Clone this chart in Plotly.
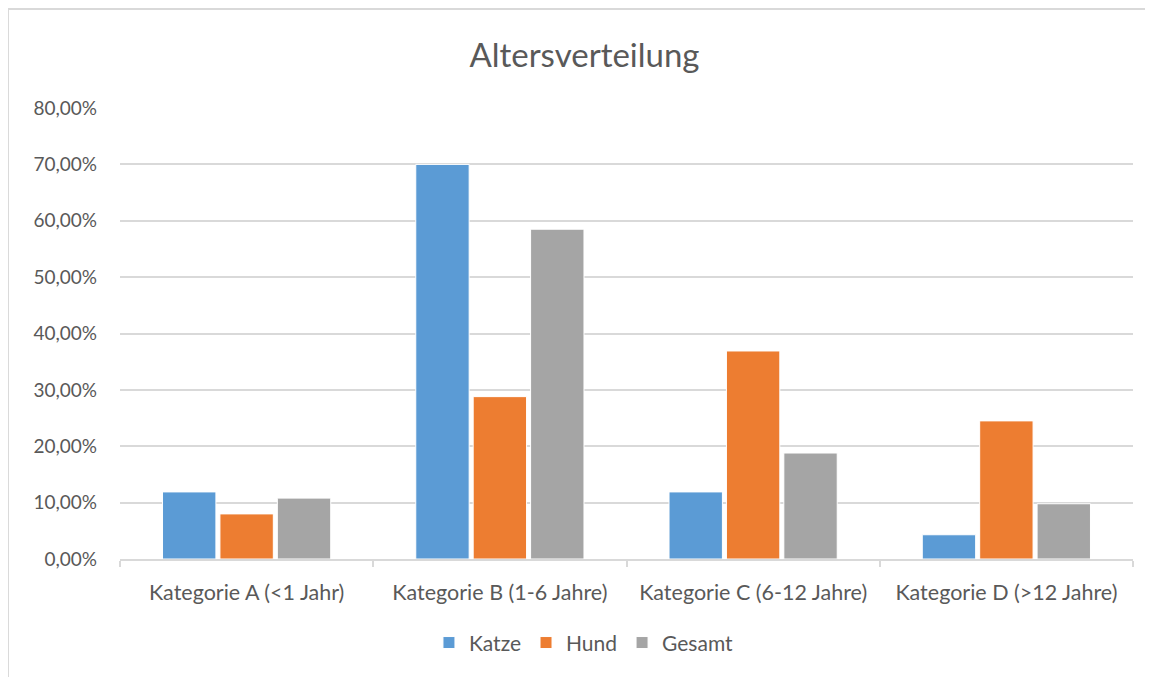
import plotly.graph_objects as go

kategorien = ['Kategorie A (<1 Jahr)', 'Kategorie B (1-6 Jahre)', 'Kategorie C (6-12 Jahre)', 'Kategorie D (>12 Jahre)']
katze = [0.119, 0.700, 0.119, 0.043]
hund = [0.080, 0.288, 0.369, 0.245]
gesamt = [0.108, 0.585, 0.188, 0.098]

farben = {'Katze': '#5B9BD5', 'Hund': '#ED7D31', 'Gesamt': '#A5A5A5'}
schrift = 'Lato'

fig = go.Figure()
for name, werte in [('Katze', katze), ('Hund', hund), ('Gesamt', gesamt)]:
    fig.add_trace(go.Bar(
        x=kategorien,
        y=werte,
        name=name,
        marker_color=farben[name],
        marker_line=dict(color='white', width=1),
    ))

# rahmen wie im excel-diagramm (nur links/oben sichtbar)
rahmen = [dict(type='rect', xref='paper', yref='paper',
               x0=-0.1106, x1=1.2, y0=-0.5, y1=1.2195,
               line=dict(color='#D9D9D9', width=2), layer='below')]

fig.update_layout(
    title=dict(text='Altersverteilung', x=0.5, xanchor='center', y=0.930, yanchor='middle',
               font=dict(family=schrift, size=33, color='#595959')),
    font=dict(family=schrift, size=19, color='#595959'),
    separators=',.',
    width=1153, height=677,
    margin=dict(l=112, r=28, t=100, b=126),
    plot_bgcolor='white',
    paper_bgcolor='white',
    barmode='group',
    bargap=0.32,
    bargroupgap=0.07,
    legend=dict(orientation='h', x=0.458, xanchor='center', y=-0.186, yanchor='middle',
                font=dict(size=21, color='#595959'), itemwidth=30, traceorder='normal'),
    shapes=rahmen,
)
fig.update_yaxes(range=[0, 0.8], dtick=0.1, tickformat='.2%', showgrid=True,
                 gridcolor='#D9D9D9', gridwidth=2, zeroline=False, showline=False,
                 ticks='', ticklabelstandoff=22)
fig.update_xaxes(showline=True, linecolor='#D9D9D9', linewidth=2, ticks='outside',
                 tickson='boundaries', tickcolor='#D9D9D9', ticklen=6, tickwidth=2,
                 showgrid=False, ticklabelstandoff=13, tickfont=dict(size=21.5))

fig.write_html('out.html')
